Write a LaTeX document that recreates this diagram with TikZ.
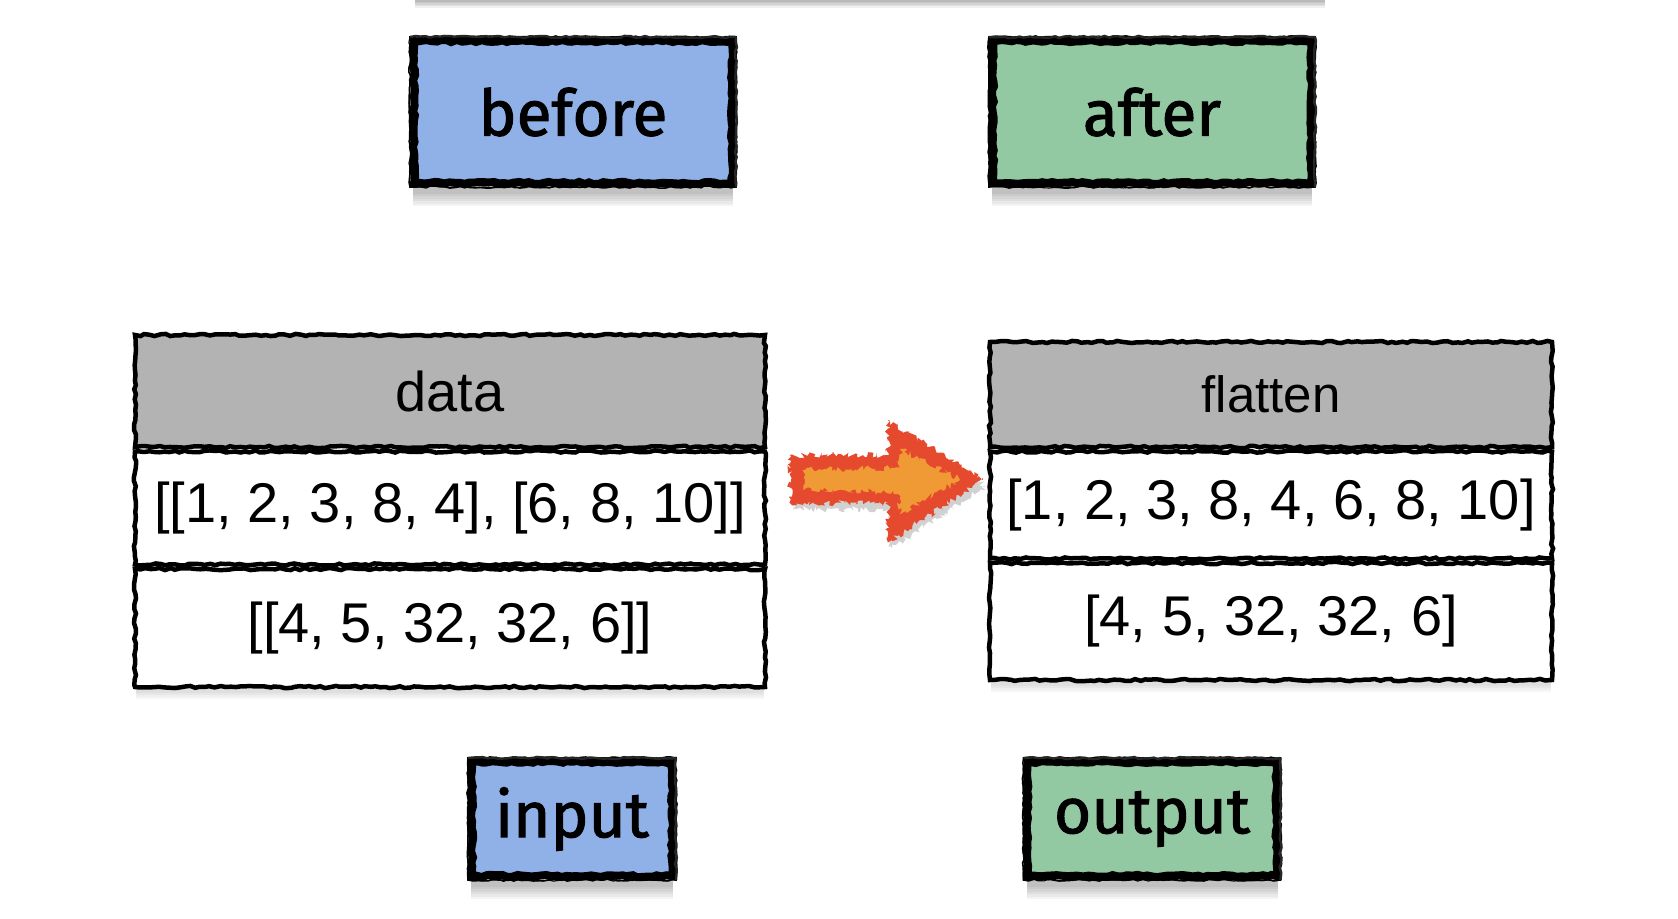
\documentclass[tikz,border=0pt]{standalone}
\usepackage{fontspec}
\setmainfont{Liberation Sans}
\newfontfamily\labelfont[FakeBold=1.6]{Fira Sans}
\usetikzlibrary{decorations.pathmorphing,calc}
\pgfdeclarelayer{background}
\pgfsetlayers{background,main}

\definecolor{beforeblue}{HTML}{8FB1E7}
\definecolor{aftergreen}{HTML}{92C9A2}
\definecolor{headgrey}{HTML}{B3B3B3}
\definecolor{flamered}{HTML}{E64A2E}
\definecolor{flameorange}{HTML}{F09A35}

\tikzset{
  rough/.style={decorate, decoration={random steps, segment length=5pt, amplitude=1.1pt}},
  flame/.style={decorate, decoration={random steps, segment length=2pt, amplitude=3.2pt}},
  tagbox/.style={rectangle, draw=black, line width=8pt, rough, inner sep=0pt,
    font=\labelfont\fontsize{64}{72}\selectfont},
  cell/.style={rectangle, draw=black, line width=4.5pt, rough, inner sep=0pt,
    minimum width=#1, font=\fontsize{56}{64}\selectfont},
  boxshade/.style={black, opacity=0.045},
}

% extra loose brush strokes around a sketched frame
\newcommand{\scratchframe}[1]{%
  \draw[line width=1.6pt, rough, shift={(1.5,1.5)}] (#1.north west) rectangle (#1.south east);
  \draw[line width=1.2pt, rough, shift={(-2,-1)}] (#1.north west) rectangle (#1.south east);
  \draw[line width=2.4pt, rough, black!85, shift={(0.5,-2.5)}] (#1.north west) -- (#1.north east);
  \draw[line width=2.4pt, rough, black!85, shift={(2.5,0.5)}] (#1.north east) -- (#1.south east);
}

\begin{document}
\pgfmathsetseed{7}
\begin{tikzpicture}[x=1pt, y=-1pt]
\useasboundingbox (0,0) rectangle (1678,918);

% label boxes
\node[tagbox, fill=beforeblue, minimum width=318pt, minimum height=142pt] (before) at (573,112) {before};
\node[tagbox, fill=aftergreen, minimum width=318pt, minimum height=142pt] (after) at (1152,112) {after};
\node[tagbox, fill=beforeblue, minimum width=200pt, minimum height=114pt] (input) at (572,819) {input};
\node[tagbox, fill=aftergreen, minimum width=249pt, minimum height=114pt] (output) at (1152,819) {output};
\foreach \n in {before,after,input,output} {\scratchframe{\n}}

% input table
\node[cell=630pt, fill=headgrey, minimum height=112pt] (dhead) at (450,391) {data};
\node[cell=630pt, fill=white, minimum height=113pt, anchor=north] (drow1) at (dhead.south) {[[1, 2, 3, 8, 4], [6, 8, 10]]};
\node[cell=630pt, fill=white, minimum height=118pt, anchor=north] (drow2) at (drow1.south) {[[4, 5, 32, 32, 6]]};

% output table
\node[cell=562pt, fill=headgrey, minimum height=105pt, font=\fontsize{51}{60}\selectfont] (fhead) at (1271,394.5) {flatten};
\node[cell=562pt, fill=white, minimum height=107pt, anchor=north] (frow1) at (fhead.south) {[1, 2, 3, 8, 4, 6, 8, 10]};
\node[cell=562pt, fill=white, minimum height=117pt, anchor=north] (frow2) at (frow1.south) {[4, 5, 32, 32, 6]};

% flame arrow between the tables
\fill[black, opacity=0.18, flame, shift={(3,6)}]
  (790,455) -- (888,455) -- (888,420) -- (983,480) -- (888,542) -- (888,503) -- (790,503) -- cycle;
\fill[flamered, flame]
  (790,455) -- (888,455) -- (888,420) -- (983,480) -- (888,542) -- (888,503) -- (790,503) -- cycle;
\fill[flameorange, flame]
  (805,470) -- (900,468) -- (900,449) -- (960,480) -- (900,513) -- (900,492) -- (805,490) -- cycle;

\begin{pgfonlayer}{background}
  \fill[white] (0,0) rectangle (1678,918);
  % soft band along the top edge
  \foreach \k in {1,...,5} {\fill[black, opacity=0.06] (415,0) rectangle (1325,\k*1.6);}
  % soft shadows under the boxes
  \foreach \n in {before,after,input,output} {
    \foreach \k in {1,...,6} {
      \fill[boxshade] ([xshift=3pt]\n.south west) rectangle ([xshift=-3pt,yshift=-4pt-\k*2.5pt]\n.south east);
    }
  }
  \foreach \n in {drow2,frow2} {
    \foreach \k in {1,...,4} {
      \fill[black, opacity=0.03] ([xshift=3pt]\n.south west) rectangle ([xshift=-3pt,yshift=-2pt-\k*2pt]\n.south east);
    }
  }
\end{pgfonlayer}
\end{tikzpicture}
\end{document}
